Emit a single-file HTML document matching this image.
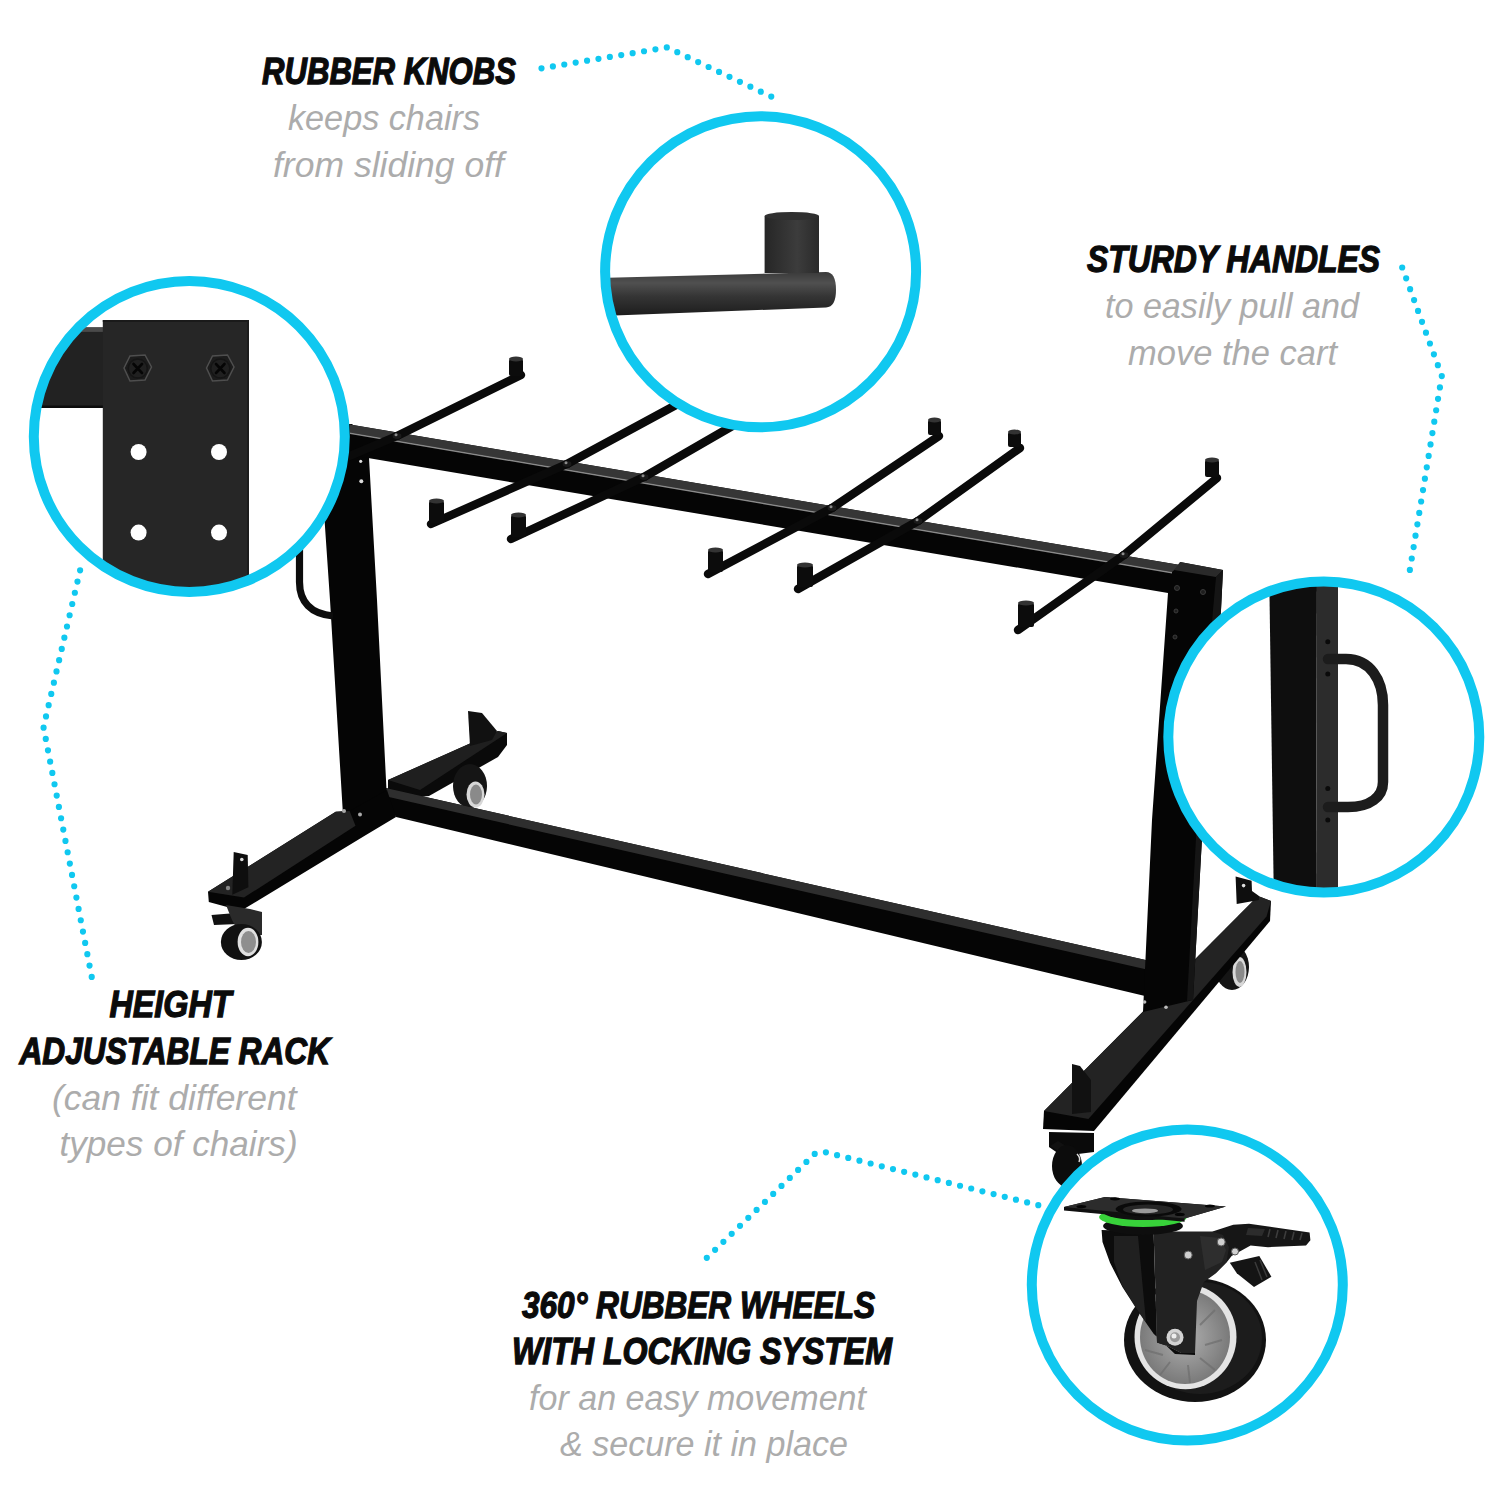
<!DOCTYPE html>
<html><head><meta charset="utf-8">
<style>
html,body{margin:0;padding:0;background:#fff;}
body{width:1500px;height:1500px;overflow:hidden;position:relative;}
svg{position:absolute;left:0;top:0;display:block;}
.t{font-family:"Liberation Sans",sans-serif;font-style:italic;font-weight:bold;fill:#0b0b0b;font-size:36.5px;stroke:#0b0b0b;stroke-width:1.3px;}
.s{font-family:"Liberation Sans",sans-serif;font-style:italic;font-weight:normal;fill:#acacac;font-size:35px;}
</style></head>
<body>
<svg width="1500" height="1500" viewBox="0 0 1500 1500">
<defs>
  <clipPath id="cA"><circle cx="760.6" cy="271.7" r="152"/></clipPath>
  <clipPath id="cB"><circle cx="189.3" cy="436.4" r="152"/></clipPath>
  <clipPath id="cC"><circle cx="1323.8" cy="737" r="152"/></clipPath>
  <clipPath id="cD"><circle cx="1187.3" cy="1285" r="152"/></clipPath>
  <linearGradient id="rodG" x1="0" y1="0" x2="0" y2="1">
    <stop offset="0" stop-color="#3a3a3a"/>
    <stop offset="0.25" stop-color="#505050"/>
    <stop offset="0.55" stop-color="#353535"/>
    <stop offset="1" stop-color="#1c1c1c"/>
  </linearGradient>
  <linearGradient id="knobG" x1="0" y1="0" x2="1" y2="0">
    <stop offset="0" stop-color="#262626"/>
    <stop offset="0.6" stop-color="#3c3c3c"/>
    <stop offset="1" stop-color="#2a2a2a"/>
  </linearGradient>
  <radialGradient id="hubG" cx="0.5" cy="0.5" r="0.5">
    <stop offset="0" stop-color="#b0b0b0"/>
    <stop offset="1" stop-color="#7a7a7a"/>
  </radialGradient>
</defs>

<!-- ================= CART ================= -->
<g id="cart">
  <!-- back base bar (left) -->
  <polygon points="388,780 498,731 507,733 507,745 498,757 429,796 388,800" fill="#0a0a0a"/>
  <polygon points="388,780 498,731 507,733 420,790" fill="#1f1f1f"/>
  <!-- back-left caster -->
  <polygon points="468,711 482,713 497,731 492,740 470,746" fill="#111"/>
  <ellipse cx="470" cy="786" rx="17" ry="22" fill="#151515"/>
  <ellipse cx="475.5" cy="794.5" rx="9" ry="13" fill="#d8d8d8"/>
  <ellipse cx="476" cy="794.5" rx="6" ry="10" fill="#8a8a8a"/>

  <!-- back-right caster -->
  <ellipse cx="1232" cy="967" rx="17" ry="23" fill="#151515"/>
  <ellipse cx="1239.5" cy="972" rx="7" ry="15" fill="#d8d8d8"/>
  <ellipse cx="1240" cy="972" rx="4.5" ry="11" fill="#8a8a8a"/>

  <!-- lower crossbar -->
  <polygon points="377,786 1150,961 1145,996 396,817" fill="#050505"/>
  <polygon points="377,786 1150,961 1149,970 380,795" fill="#2e2e2e"/>

  <!-- left upright -->
  <polygon points="318,424 352,424 368,440 377,600 387,800 343,815 330,600" fill="#050505"/>
  <circle cx="360.7" cy="461.3" r="1.6" fill="#ddd"/>
  <circle cx="361.3" cy="481.3" r="2" fill="#ddd"/>
  <!-- left handle (outside circle) -->
  <path d="M299.5,545 L299.5,582 C299.5,602 311,614 333,616" fill="none" stroke="#0c0c0c" stroke-width="7.2"/>

  <!-- left foot -->
  <polygon points="208,891.7 335.7,811.8 349.6,811 387,790 396,817 364.3,836 241,910.8 208.8,902" fill="#050505"/>
  <polygon points="208,891.7 335.7,811.8 349.6,811 355.5,825.7 244,897.6" fill="#232323"/>
  <polygon points="233.7,852 247.7,855 248.4,887.3 232.3,894.7" fill="#0e0e0e"/>
  <circle cx="241.8" cy="859.5" r="1.8" fill="#ddd"/>
  <circle cx="228" cy="888" r="2.2" fill="#888"/>
  <circle cx="344" cy="811" r="2" fill="#aaa"/>
  <circle cx="360" cy="814.5" r="2" fill="#aaa"/>
  <!-- front-left caster -->
  <polygon points="211.5,915 236,913 238,924 214,925" fill="#111"/>
  <polygon points="226,905 250,909 262,912 262,935 240,935 232,920" fill="#2a2a2a"/>
  <ellipse cx="241.4" cy="942" rx="20.5" ry="18" fill="#111"/>
  <ellipse cx="248" cy="942" rx="10.4" ry="14.2" fill="#e0e0e0"/>
  <ellipse cx="248.5" cy="942" rx="7.5" ry="11" fill="#8e8e8e"/>

  <!-- right foot -->
  <polygon points="1044,1111 1258,896 1271,901 1270,921 1094,1131 1043,1129" fill="#050505"/>
  <polygon points="1044,1111 1258,896 1271,901 1266.5,916.5 1088.4,1119" fill="#232323"/>
  <polygon points="1072,1064 1080,1066 1091,1080 1091,1112 1072,1114" fill="#111"/>
  <polygon points="1235.6,876.5 1251.6,880.8 1252,891 1259,896 1259,900 1236.7,904" fill="#0e0e0e"/>
  <circle cx="1243.6" cy="885.6" r="1.8" fill="#ddd"/>
  <!-- front-right caster -->
  <polygon points="1049,1132 1094,1133 1094,1152 1062,1156 1049,1147" fill="#0a0a0a"/>
  <polygon points="1050,1146 1058,1141 1066,1146 1060,1152" fill="#111"/>
  <ellipse cx="1067" cy="1166" rx="15" ry="21" fill="#0c0c0c"/>
  <path d="M1077,1154 Q1081,1158 1079,1162" stroke="#ddd" stroke-width="1.5" fill="none"/>

  <!-- top beam + right upright -->
  <polygon points="350,424.5 1180,565 1180,562 1223,570 1221,610 1203,820 1193,1000 1143,1012 1152,820 1168,593 368,458 350,455" fill="#050505"/>
  <polygon points="350,424.5 1180,565 1172,572 350,432.5" fill="#363636"/>
  <polygon points="350,432.5 1172,572 1172,573.5 350,434" fill="#8a8a8a"/>
  <polygon points="1180,562 1223,570 1216,577 1174,570" fill="#2a2a2a"/>
  <polygon points="1216,577 1223,570 1221,610 1203,820 1193,1000 1187,1001 1197,820 1213,610" fill="#151515"/>
  <g fill="#1e1e1e" stroke="#3a3a3a" stroke-width="1">
    <circle cx="1177" cy="588" r="2.5"/><circle cx="1203" cy="592" r="2.5"/>
    <circle cx="1176" cy="611" r="2"/><circle cx="1175" cy="637" r="2"/>
  </g>

  <circle cx="1144.6" cy="1002" r="1.8" fill="#bbb"/>
  <circle cx="1166" cy="1007.3" r="1.8" fill="#bbb"/>
  <!-- arms -->
  <g fill="none" stroke="#0a0a0a" stroke-width="8.4" stroke-linecap="round" stroke-linejoin="round">
    <polyline points="340,460 397,436 521,375"/>
    <polyline points="431,524 567,464 700,392"/>
    <polyline points="511,539 644,477 760,410"/>
    <polyline points="708,574 832,508 939,436"/>
    <polyline points="798,589 918,521 1020,448"/>
    <polyline points="1018,630 1124,555 1217,478"/>
  </g>
  <!-- knobs -->
  <g fill="#0c0c0c">
    <rect x="509" y="359" width="14" height="17" rx="2"/>
    <rect x="429" y="501" width="15" height="22" rx="2"/>
    <rect x="511" y="515" width="15" height="22" rx="2"/>
    <rect x="708" y="550" width="15" height="22" rx="2"/>
    <rect x="928" y="420" width="13" height="15" rx="2"/>
    <rect x="797" y="565" width="16" height="22" rx="2"/>
    <rect x="1008" y="432" width="13" height="15" rx="2"/>
    <rect x="1018" y="603" width="16" height="24" rx="2"/>
    <rect x="1205" y="460" width="14" height="17" rx="2"/>
  </g>
  <g fill="#333">
    <ellipse cx="516" cy="359" rx="7" ry="2.5"/>
    <ellipse cx="436.5" cy="501" rx="7.5" ry="2.5"/>
    <ellipse cx="518.5" cy="515" rx="7.5" ry="2.5"/>
    <ellipse cx="715.5" cy="550" rx="7.5" ry="2.5"/>
    <ellipse cx="934.5" cy="420" rx="6.5" ry="2.5"/>
    <ellipse cx="805" cy="565" rx="8" ry="2.5"/>
    <ellipse cx="1014.5" cy="432" rx="6.5" ry="2.5"/>
    <ellipse cx="1026" cy="603" rx="8" ry="2.5"/>
    <ellipse cx="1212" cy="460" rx="7" ry="2.5"/>
  </g>
  <g fill="#1a1a1a" stroke="#0a0a0a" stroke-width="1">
    <ellipse cx="397" cy="436" rx="5" ry="3.5"/>
    <ellipse cx="567" cy="464" rx="5" ry="3.5"/>
    <ellipse cx="644" cy="477" rx="5" ry="3.5"/>
    <ellipse cx="832" cy="508" rx="5" ry="3.5"/>
    <ellipse cx="918" cy="521" rx="5" ry="3.5"/>
    <ellipse cx="1124" cy="555" rx="5" ry="3.5"/>
  </g>
  <g fill="#8a8a8a">
    <circle cx="396" cy="434.8" r="1.5"/>
    <circle cx="566" cy="462.8" r="1.5"/>
    <circle cx="643" cy="475.8" r="1.5"/>
    <circle cx="831" cy="506.8" r="1.5"/>
    <circle cx="917" cy="519.8" r="1.5"/>
    <circle cx="1123" cy="553.8" r="1.5"/>
  </g>
</g>

<!-- ================= CIRCLE A : rubber knob ================= -->
<circle cx="760.6" cy="271.7" r="155.5" fill="#fff"/>
<g clip-path="url(#cA)">
  <path d="M600,278 L826,272 Q836,272 836,290 Q836,307 826,307.5 L600,316 Z" fill="url(#rodG)"/>
  <rect x="764.6" y="216" width="54.4" height="57" fill="url(#knobG)"/>
  <ellipse cx="791.8" cy="216" rx="27.2" ry="4" fill="#303030"/>
</g>
<circle cx="760.6" cy="271.7" r="155.5" fill="none" stroke="#10c8f0" stroke-width="10"/>

<!-- ================= CIRCLE B : plate ================= -->
<circle cx="189.3" cy="436.4" r="155.5" fill="#fff"/>
<g clip-path="url(#cB)">
  <rect x="0" y="327.4" width="103" height="80.6" fill="#222"/>
  <rect x="0" y="327.4" width="103" height="4.5" fill="#4a4a4a"/>
  <rect x="0" y="405.5" width="103" height="2.5" fill="#0c0c0c"/>
  <rect x="102.8" y="320" width="146.2" height="300" fill="#262626"/>
  <rect x="102.8" y="320" width="146.2" height="2" fill="#1a1a1a"/>
  <rect x="247" y="320" width="2" height="300" fill="#1c1c1c"/>
  <g fill="#1c1c1c" stroke="#4e4e4e" stroke-width="1.5">
    <polygon points="124,368 130,356 145,355 151.5,367 145,380 130,381"/>
    <polygon points="206.5,368 212.5,356 227.5,355 234,367 227.5,380 212.5,381"/>
  </g>
  <g fill="#202020" stroke="#151515" stroke-width="1.5"><circle cx="137.8" cy="368.5" r="9.5"/><circle cx="220.3" cy="368.5" r="9.5"/></g>
  <g stroke="#050505" stroke-width="2.6" stroke-linecap="round">
    <path d="M133.5,364 L142,373 M142,364 L133.5,373"/>
    <path d="M216,364 L224.5,373 M224.5,364 L216,373"/>
  </g>
  <g fill="#fff">
    <circle cx="138.6" cy="452" r="8"/>
    <circle cx="219" cy="452" r="8"/>
    <circle cx="138.6" cy="532.6" r="8"/>
    <circle cx="219" cy="532.6" r="8"/>
  </g>
</g>
<circle cx="189.3" cy="436.4" r="155.5" fill="none" stroke="#10c8f0" stroke-width="10"/>

<!-- ================= CIRCLE C : handle ================= -->
<circle cx="1323.8" cy="737" r="155.5" fill="#fff"/>
<g clip-path="url(#cC)">
  <polygon points="1269,560 1317,560 1316,910 1274,910" fill="#0e0e0e"/>
  <polygon points="1317,560 1338,560 1338,910 1316,910" fill="#2c2c2c"/>
  <g fill="#0a0a0a">
    <circle cx="1327.8" cy="641.7" r="2.5"/>
    <circle cx="1327.8" cy="674" r="2.5"/>
    <circle cx="1327.8" cy="788.6" r="2.5"/>
    <circle cx="1327.8" cy="820" r="2.5"/>
  </g>
  <path d="M1328,659 L1346,659 C1370,659 1383,680 1383,705 L1383,782 C1383,797 1370,807 1348,807 L1328,807" fill="none" stroke="#1c1c1c" stroke-width="10.5" stroke-linecap="round"/>
</g>
<circle cx="1323.8" cy="737" r="155.5" fill="none" stroke="#10c8f0" stroke-width="10"/>

<!-- ================= CIRCLE D : caster ================= -->
<circle cx="1187.3" cy="1285" r="155.5" fill="#fff"/>
<g clip-path="url(#cD)">
  <!-- wheel tire -->
  <ellipse cx="1195" cy="1340" rx="71" ry="62" fill="#121212"/>
  <ellipse cx="1200" cy="1338" rx="62" ry="56" fill="#1c1c1c"/>
  <!-- rim + hub -->
  <ellipse cx="1185.5" cy="1336.7" rx="51" ry="52.5" fill="#e4e4e4"/>
  <ellipse cx="1185" cy="1337" rx="45" ry="47" fill="url(#hubG)"/>
  <g fill="none" stroke="#6e6e6e" stroke-width="2" opacity="0.7">
    <path d="M1150,1320 L1160,1340 M1145,1350 L1163,1355 M1160,1375 L1170,1362 M1190,1383 L1188,1365 M1215,1370 L1200,1358 M1222,1340 L1205,1345 M1215,1310 L1200,1325"/>
  </g>
  <!-- lock mechanism -->
  <polygon points="1229.8,1262.8 1259.3,1255.9 1271.4,1276.7 1254,1287 1236.8,1273.2" fill="#141414"/>
  <g stroke="#3a3a3a" stroke-width="1.5"><path d="M1255,1262 L1262,1280 M1260,1260 L1267,1277"/></g>
  <!-- brake pedal -->
  <polygon points="1212.5,1231.6 1233.3,1224.7 1249,1223.8 1309.6,1232.5 1310.4,1240.3 1306,1245.5 1268,1247.2 1250.6,1245.5 1231.6,1255.9 1226.4,1262.8" fill="#161616"/>
  <g stroke="#3c3c3c" stroke-width="1.6">
    <path d="M1270,1229 L1268,1237 M1278,1230 L1276,1238 M1286,1231 L1284,1239 M1294,1232 L1292,1240 M1302,1233 L1300,1240"/>
  </g>
  <polygon points="1248,1228 1265,1229 1262,1236 1246,1235" fill="#2c2c2c"/>
  <!-- fork left glossy side -->
  <path d="M1101.6,1229.9 L1153.6,1231.6 L1157,1342.5 L1167.5,1346 L1181.3,1352.9 L1195,1353 L1195,1355 L1175,1354 L1153.6,1333.8 L1138,1311.3 L1122.4,1287 L1110,1262.8 L1102.5,1242 Z" fill="#0c0c0c"/>
  <path d="M1114,1236 L1138,1236 L1146,1322 L1136,1308 L1122,1285 L1114,1262 Z" fill="#3a3a3a" opacity="0.45"/>
  <!-- fork front plate -->
  <path d="M1153.6,1231.6 L1212.5,1231.6 L1223,1235 L1229,1247.2 L1226.4,1262.8 L1216,1273.2 L1203.8,1281.9 L1197,1301 L1195,1353 L1181.3,1352.9 L1167.5,1346 L1157,1342.5 Z" fill="#222"/>
  <path d="M1200,1236 L1220,1238 L1226,1250 L1222,1262 L1205,1270 Z" fill="#2e2e2e"/>
  <!-- axle nut -->
  <circle cx="1175" cy="1337.3" r="8.5" fill="#d4d4d4"/>
  <circle cx="1175" cy="1337.3" r="5" fill="#9a9a9a"/>
  <circle cx="1174" cy="1336" r="2.5" fill="#eee"/>
  <!-- screws -->
  <g fill="#cfcfcf" stroke="#555" stroke-width="1">
    <circle cx="1188.2" cy="1255" r="4"/>
    <circle cx="1221.2" cy="1242" r="4"/>
    <circle cx="1235" cy="1251.5" r="3.5"/>
  </g>
  <!-- swivel dark ring + green ring -->
  <ellipse cx="1143" cy="1226" rx="40" ry="9" fill="#0e0e0e"/>
  <ellipse cx="1143" cy="1217" rx="44" ry="10" fill="#38d23a"/>
  <ellipse cx="1144" cy="1212" rx="41" ry="8" fill="#101010"/>
  <!-- top plate -->
  <polygon points="1064,1207 1105,1197 1226,1206.6 1184.6,1218.6 1184.6,1221.8 1064,1210.6" fill="#101010"/>
  <polygon points="1064,1207 1105,1197 1226,1206.6 1184.6,1218.6" fill="#2c2c2c"/>
  <ellipse cx="1148.6" cy="1209" rx="33" ry="7.5" fill="#0a0a0a"/>
  <ellipse cx="1148" cy="1209.5" rx="25" ry="5" fill="#262626"/>
  <ellipse cx="1145" cy="1210.8" rx="13" ry="2.4" fill="#9a9a9a"/>
  <g fill="#050505">
    <ellipse cx="1081.4" cy="1206.6" rx="5" ry="1.6"/>
    <ellipse cx="1115" cy="1198.8" rx="5" ry="1.6"/>
    <ellipse cx="1209.9" cy="1206" rx="5" ry="1.6"/>
    <ellipse cx="1179.8" cy="1214.4" rx="5" ry="1.6"/>
  </g>
</g>
<circle cx="1187.3" cy="1285" r="155.5" fill="none" stroke="#10c8f0" stroke-width="10"/>

<!-- ================= DOTTED LINES ================= -->
<g fill="none" stroke="#10c8f0" stroke-width="6.2" stroke-linecap="round">
  <path d="M541.5,68.3 L667.1,47.4 L781.7,101.5" stroke-dasharray="0 11.548"/>
  <path d="M1402.2,267.5 L1441.8,376 L1408,581.3" stroke-dasharray="0 11.556"/>
  <path d="M80.1,570.3 L43.5,727.2 L93.9,988.2" stroke-dasharray="0 11.539"/>
  <path d="M706.8,1257.8 L815.3,1153.4 L825.2,1152.2 L1038.3,1205.2" stroke-dasharray="0 11.519"/>
</g>

<!-- ================= TEXT ================= -->
<g>
  <text class="t" x="262.0" y="84.1" textLength="254.0" lengthAdjust="spacingAndGlyphs">RUBBER KNOBS</text>
  <text class="s" x="288.0" y="129.8" textLength="192.0" lengthAdjust="spacingAndGlyphs">keeps chairs</text>
  <text class="s" x="273.0" y="177" textLength="231.0" lengthAdjust="spacingAndGlyphs">from sliding off</text>
  <text class="t" x="1087.0" y="272" textLength="293.0" lengthAdjust="spacingAndGlyphs">STURDY HANDLES</text>
  <text class="s" x="1105.0" y="318" textLength="254.0" lengthAdjust="spacingAndGlyphs">to easily pull and</text>
  <text class="s" x="1128.0" y="364.7" textLength="209.0" lengthAdjust="spacingAndGlyphs">move the cart</text>
  <text class="t" x="109.5" y="1017.3" textLength="122.0" lengthAdjust="spacingAndGlyphs">HEIGHT</text>
  <text class="t" x="19.5" y="1063.5" textLength="310.5" lengthAdjust="spacingAndGlyphs">ADJUSTABLE RACK</text>
  <text class="s" x="52.0" y="1109.5" textLength="244.5" lengthAdjust="spacingAndGlyphs">(can fit different</text>
  <text class="s" x="59.5" y="1156.2" textLength="238.1" lengthAdjust="spacingAndGlyphs">types of chairs)</text>
  <text class="t" x="522.0" y="1318" textLength="353.0" lengthAdjust="spacingAndGlyphs">360° RUBBER WHEELS</text>
  <text class="t" x="512.0" y="1364" textLength="380.0" lengthAdjust="spacingAndGlyphs">WITH LOCKING SYSTEM</text>
  <text class="s" x="529.0" y="1410" textLength="337.0" lengthAdjust="spacingAndGlyphs">for an easy movement</text>
  <text class="s" x="560.0" y="1456" textLength="288.0" lengthAdjust="spacingAndGlyphs">&amp; secure it in place</text>
</g>
</svg>
</body></html>
